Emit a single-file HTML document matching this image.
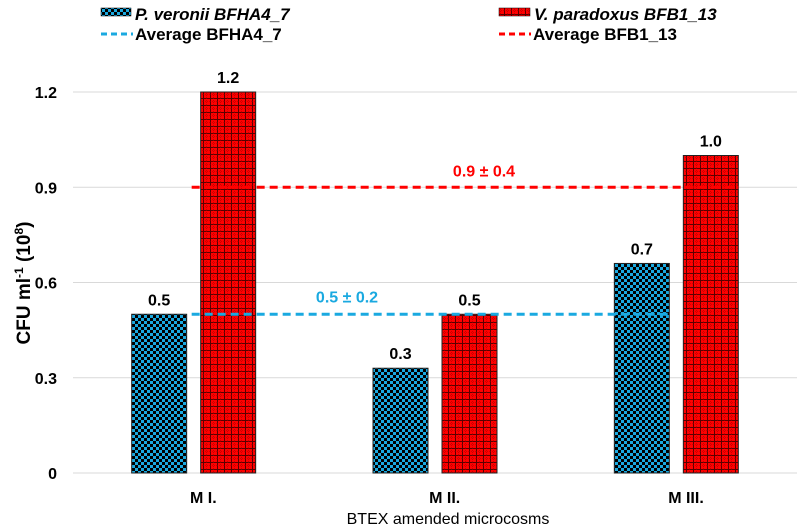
<!DOCTYPE html>
<html><head><meta charset="utf-8"><style>
body{margin:0;background:#fff;}
svg{display:block;font-family:"Liberation Sans",sans-serif;font-weight:bold;}
</style></head><body>
<svg id="chart" width="797" height="528">
<defs>
<pattern id="chk" width="6" height="6" patternUnits="userSpaceOnUse">
<rect width="6" height="6" fill="#1aa9e0"/><rect width="3" height="3" fill="#000"/><rect x="3" y="3" width="3" height="3" fill="#000"/>
</pattern>
<pattern id="grd" width="7" height="7" patternUnits="userSpaceOnUse">
<rect width="7" height="7" fill="#ff0000"/><path d="M0 0.5H7M0.5 0V7" stroke="#5a0000" stroke-width="1"/><path d="M0 3.5H7M3.5 0V7" stroke="#a00000" stroke-width="0.6" stroke-dasharray="1 1"/>
</pattern>
</defs>
<g id="grid"></g><g id="bars"></g><g id="lines"></g><g id="labels"></g>
<g>
<rect x="101" y="8" width="30" height="8" fill="url(#chk)" stroke="#000" stroke-width="0.5"/>
<text x="135" y="20" font-size="17" font-style="italic">P. veronii BFHA4_7</text>
<rect x="499" y="8" width="31" height="8" fill="url(#grd)" stroke="#000" stroke-width="0.5"/>
<text x="534" y="20" font-size="17" font-style="italic">V. paradoxus BFB1_13</text>
<line x1="101" y1="34" x2="133" y2="34" stroke="#1aa9e0" stroke-width="3" stroke-dasharray="6 4"/>
<text x="135" y="40" font-size="17">Average BFHA4_7</text>
<line x1="499" y1="34" x2="531" y2="34" stroke="#ff0000" stroke-width="3" stroke-dasharray="6 4"/>
<text x="533" y="40" font-size="17">Average BFB1_13</text>
</g>
<text transform="translate(30,283) rotate(-90)" text-anchor="middle" font-size="19">CFU ml<tspan font-size="12" dy="-7">-1</tspan><tspan dy="7"> (10</tspan><tspan font-size="12" dy="-7">8</tspan><tspan dy="7">)</tspan></text>
<text x="448" y="524" text-anchor="middle" font-size="16" font-weight="normal">BTEX amended microcosms</text>
</svg>
<script>
const categories=["M I.","M II.","M III."];
const seriesA=[0.5,0.33,0.66];
const seriesB=[1.2,0.5,1.0];
const labelsA=["0.5","0.3","0.7"];
const labelsB=["1.2","0.5","1.0"];
const yTicks=[0,0.3,0.6,0.9,1.2];
const yTickLabels=["0","0.3","0.6","0.9","1.2"];
const avgA=[0.5];const avgB=[0.9];
const avgLabelA=["0.5 ± 0.2"];const avgLabelB=["0.9 ± 0.4"];
const NS="http://www.w3.org/2000/svg";
const X0=73,X1=797,Y0=473,Y1=92,YMAX=1.2;
const step=(X1-X0)/categories.length;
function y(v){return Y0-(v/YMAX)*(Y0-Y1);}
function xc(i){return X0+step*(i+0.5);}
function mk(tag,attrs,parent,txt){const e=document.createElementNS(NS,tag);for(const k in attrs)e.setAttribute(k,attrs[k]);if(txt!==undefined)e.textContent=txt;document.getElementById(parent).appendChild(e);return e;}
yTicks.forEach((t,i)=>{
 const l=mk('line',{x1:X0,x2:X1,y1:y(t),y2:y(t),stroke:'#d9d9d9','stroke-width':1},'grid');
 
 
 const tx=mk('text',{x:57,y:y(t)+6,'text-anchor':'end','font-size':16},'grid',yTickLabels[i]);
 
 
});
const bw=55,gap=14;
categories.forEach((c,i)=>{
 const cx=xc(i);
 const a=mk('rect',{x:cx-gap/2-bw,y:y(seriesA[i]),width:bw,height:Y0-y(seriesA[i]),fill:'url(#chk)',stroke:'#222','stroke-width':1},'bars');
 
 
 const b=mk('rect',{x:cx+gap/2,y:y(seriesB[i]),width:bw,height:Y0-y(seriesB[i]),fill:'url(#grd)',stroke:'#222','stroke-width':1},'bars');
 
 
 const la=mk('text',{x:cx-gap/2-bw/2,y:y(seriesA[i])-9,'text-anchor':'middle','font-size':16},'labels',labelsA[i]);
 
 
 const lb=mk('text',{x:cx+gap/2+bw/2,y:y(seriesB[i])-9,'text-anchor':'middle','font-size':16},'labels',labelsB[i]);
 
 
 const xl=mk('text',{x:cx+step*0.04,y:503,'text-anchor':'middle','font-size':16},'labels',c);
 
 
});
const la1=mk('line',{x1:xc(0)-2,x2:xc(2)-6,y1:y(avgA[0]),y2:y(avgA[0]),stroke:'#1aa9e0','stroke-width':3,'stroke-dasharray':'8 5'},'lines');


const lb1=mk('line',{x1:xc(0)-2,x2:xc(2)+62,y1:y(avgB[0]),y2:y(avgB[0]),stroke:'#ff0000','stroke-width':3,'stroke-dasharray':'8 5'},'lines');


const ta=mk('text',{x:347,y:y(avgA[0])-12,'text-anchor':'middle','font-size':16,fill:'#1aa9e0'},'labels',avgLabelA[0]);


const tb=mk('text',{x:484,y:y(avgB[0])-11,'text-anchor':'middle','font-size':16,fill:'#ff0000'},'labels',avgLabelB[0]);


</script>
</body></html>
